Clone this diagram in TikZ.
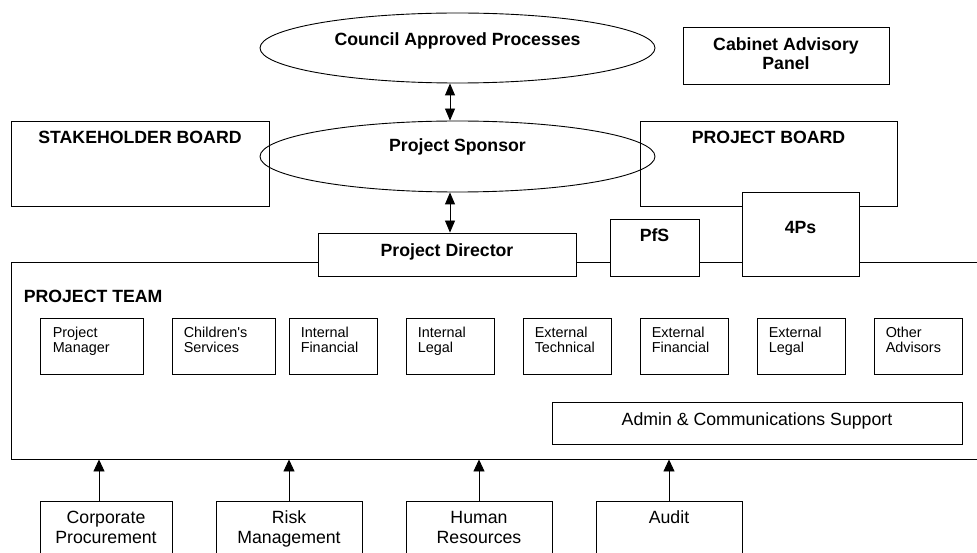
\documentclass[tikz,border=0pt]{standalone}
\usepackage{fontspec}
\setmainfont{Liberation Sans}
\usetikzlibrary{arrows.meta,positioning,shapes.geometric,fit}
\tikzset{
  org/box/.style={draw, rectangle, line width=0.9pt, inner sep=0pt},
  org/cover/.style={org/box, fill=white},
  org/oval/.style={draw, ellipse, line width=0.9pt, inner sep=0pt},
  org/head/.style={font=\bfseries\fontsize{17.7}{19}\selectfont, inner sep=0pt, align=center},
  org/text/.style={font=\fontsize{17.7}{20}\selectfont, inner sep=0pt, align=center},
  org/small/.style={font=\fontsize{14.4}{15}\selectfont, inner sep=0pt, align=left},
  org/arrow/.style={line width=0.9pt, -{Triangle[length=12pt,width=11pt]}},
  org/twoway/.style={line width=0.9pt, {Triangle[length=12pt,width=10pt]}-{Triangle[length=12pt,width=10pt]}}
}

\begin{document}
\begin{tikzpicture}[x=1pt, y=-1pt]
  \useasboundingbox (0,0) rectangle (977,553);

  % top: processes and panels
  \node[org/oval, minimum width=395pt, minimum height=70pt] (council) at (457.5,48) {};
  \node[org/head, anchor=base] (counciltxt) at ([yshift=2.4pt]council.center) {Council Approved Processes};
  \node[org/box, fit={(683,27) (889,84)}] (cabinet) {};
  \node[org/head, anchor=base] (cabinettxt) at ([yshift=-42.7pt]cabinet.north) {Cabinet Advisory\\Panel};

  \node[org/box, fit={(11,121) (269,206)}] (stakeholder) {};
  \node[org/head, anchor=base] (stakeholdertxt) at ([yshift=-23pt]stakeholder.north) {STAKEHOLDER BOARD};
  \node[org/box, fit={(640,121) (897,206)}] (pboard) {};
  \node[org/head, anchor=base] (pboardtxt) at ([yshift=-23pt]pboard.north) {PROJECT BOARD};
  \node[org/oval, minimum width=395pt, minimum height=71pt] (sponsor) at (457.5,156.5) {};
  \node[org/head, anchor=base] (sponsortxt) at ([yshift=4.5pt]sponsor.center) {Project Sponsor};

  % project team
  \node[org/box, fit={(11,262) (995,459)}] (team) {};
  \node[org/head, anchor=base west] (teamtxt) at ([xshift=13pt,yshift=-41pt]team.north west) {PROJECT TEAM};

  \node[org/cover, fit={(318,233) (576,276)}] (director) {};
  \node[org/head, anchor=base] (directortxt) at ([yshift=-24pt]director.north) {Project Director};
  \node[org/cover, fit={(610,219) (699,276)}] (pfs) {};
  \node[org/head, anchor=base] (pfstxt) at ([yshift=-23pt]pfs.north) {PfS};
  \node[org/cover, fit={(742,192) (859,276)}] (fourps) {};
  \node[org/head, anchor=base] (fourpstxt) at ([yshift=-42pt]fourps.north) {4Ps};

  \node[org/box, fit={(40,318) (143,374)}] (pm) {};
  \node[org/small, anchor=base west] (pmtxt) at ([xshift=13pt,yshift=-35pt]pm.north west) {Project\\Manager};
  \node[org/box, fit={(172,318) (275,374)}] (children) {};
  \node[org/small, anchor=base west] (childrentxt) at ([xshift=12pt,yshift=-35pt]children.north west) {Children\textquotesingle s\\Services};
  \node[org/box, fit={(289,318) (377,374)}] (intfin) {};
  \node[org/small, anchor=base west] (intfintxt) at ([xshift=12pt,yshift=-35pt]intfin.north west) {Internal\\Financial};
  \node[org/box, fit={(406,318) (494,374)}] (intlegal) {};
  \node[org/small, anchor=base west] (intlegaltxt) at ([xshift=12pt,yshift=-35pt]intlegal.north west) {Internal\\Legal};
  \node[org/box, fit={(523,318) (611,374)}] (exttech) {};
  \node[org/small, anchor=base west] (exttechtxt) at ([xshift=12pt,yshift=-35pt]exttech.north west) {External\\Technical};
  \node[org/box, fit={(640,318) (728,374)}] (extfin) {};
  \node[org/small, anchor=base west] (extfintxt) at ([xshift=12pt,yshift=-35pt]extfin.north west) {External\\Financial};
  \node[org/box, fit={(757,318) (845,374)}] (extlegal) {};
  \node[org/small, anchor=base west] (extlegaltxt) at ([xshift=12pt,yshift=-35pt]extlegal.north west) {External\\Legal};
  \node[org/box, fit={(874,318) (962,374)}] (other) {};
  \node[org/small, anchor=base west] (othertxt) at ([xshift=12pt,yshift=-35pt]other.north west) {Other\\Advisors};

  \node[org/box, fit={(552,402) (962,444)}] (admin) {};
  \node[org/text, anchor=base] (admintxt) at ([yshift=-23.7pt]admin.north) {Admin \& Communications Support};

  % support services
  \node[org/box, fit={(40,501) (172,580)}] (procure) {};
  \node[org/text, anchor=base] (procuretxt) at ([yshift=-43pt]procure.north) {Corporate\\Procurement};
  \node[org/box, fit={(216,501) (362,580)}] (risk) {};
  \node[org/text, anchor=base] (risktxt) at ([yshift=-43pt]risk.north) {Risk\\Management};
  \node[org/box, fit={(406,501) (552,580)}] (hr) {};
  \node[org/text, anchor=base] (hrtxt) at ([yshift=-43pt]hr.north) {Human\\Resources};
  \node[org/box, fit={(596,501) (742,580)}] (audit) {};
  \node[org/text, anchor=base] (audittxt) at ([yshift=-23pt]audit.north) {Audit};

  \draw[org/twoway] ([xshift=-7.5pt]council.south) -- ([xshift=-7.5pt]sponsor.north);
  \draw[org/twoway] ([xshift=-7.5pt]sponsor.south) -- ([xshift=3pt]director.north);
  \draw[org/arrow] ([xshift=-7pt]procure.north) -- ([xshift=-7pt]procure.north |- team.south);
  \draw[org/arrow] (risk.north) -- (risk.north |- team.south);
  \draw[org/arrow] (hr.north) -- (hr.north |- team.south);
  \draw[org/arrow] (audit.north) -- (audit.north |- team.south);
\end{tikzpicture}
\end{document}
